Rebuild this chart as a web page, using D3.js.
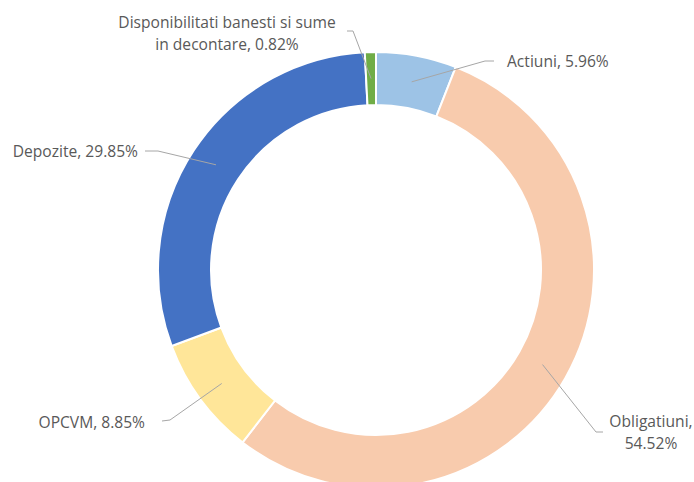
<!DOCTYPE html>
<html>
<head>
<meta charset="utf-8">
<script src="https://cdn.jsdelivr.net/npm/d3@7"></script>
<style>
  body { margin: 0; background: #ffffff; }
  text { font-family: "Open Sans", sans-serif; font-size: 15.6px; fill: #595959; }
</style>
</head>
<body>
<svg></svg>
<script>
// Data, in drawing order (clockwise from 12 o'clock)
let categories = ["Actiuni", "Obligatiuni", "OPCVM", "Depozite", "Disponibilitati banesti si sume in decontare"];
let shares = [5.96, 54.52, 8.85, 29.85, 0.82];
let labelLines = [
  ["Actiuni, 5.96%"],
  ["Obligatiuni,", "54.52%"],
  ["OPCVM, 8.85%"],
  ["Depozite, 29.85%"],
  ["Disponibilitati banesti si sume", "in decontare, 0.82%"]
];

// Colours of the slices
let colors = ["#9dc3e6", "#f8cbad", "#ffe699", "#4472c4", "#70ad47"];

// Canvas and ring size
let width = 694;
let height = 482;
let cx = 376;
let cy = 270;
let outerR = 218;
let innerR = 165;

// Where each label sits: text anchor point, its alignment, and the elbow of the leader line
let labelLayout = [
  { x: 507, y: 67, anchor: "start", lineStart: [494, 61], elbow: [485, 61] },
  { x: 651, y: 427, anchor: "middle", lineStart: [603, 432], elbow: [596, 432] },
  { x: 145, y: 428, anchor: "end", lineStart: [162, 421], elbow: [170, 420] },
  { x: 138, y: 157, anchor: "end", lineStart: [145, 151], elbow: [158, 151] },
  { x: 227, y: 28, anchor: "middle", lineStart: [347, 31], elbow: [353, 31] }
];
let lineHeight = 22;

let svg = d3.select("svg")
  .attr("width", width)
  .attr("height", height);

let values = categories.map((c, i) => ({ name: c, value: shares[i], i: i }));

let pie = d3.pie()
  .value(d => d.value)
  .sort(null);

let arc = d3.arc()
  .innerRadius(innerR)
  .outerRadius(outerR);

let arcs = pie(values);

let g = svg.append("g")
  .attr("transform", `translate(${cx}, ${cy})`);

// Draw the ring slices
g.selectAll("path.slice")
  .data(arcs)
  .enter()
  .append("path")
  .attr("class", "slice")
  .attr("d", arc)
  .attr("fill", d => colors[d.data.i])
  .attr("stroke", "#ffffff")
  .attr("stroke-width", 2);

// Leader lines from the label to the middle of each slice
let line = d3.line();
svg.selectAll("path.leader")
  .data(arcs)
  .enter()
  .append("path")
  .attr("class", "leader")
  .attr("d", d => {
    let lay = labelLayout[d.data.i];
    let c = arc.centroid(d);
    return line([lay.lineStart, lay.elbow, [cx + c[0], cy + c[1]]]);
  })
  .attr("fill", "none")
  .attr("stroke", "#a6a6a6")
  .attr("stroke-width", 1);

// Data labels
let labels = svg.selectAll("text.label")
  .data(arcs)
  .enter()
  .append("text")
  .attr("class", "label")
  .attr("text-anchor", d => labelLayout[d.data.i].anchor);

labels.selectAll("tspan")
  .data(d => labelLines[d.data.i].map((t, k) => ({ t: t, k: k, lay: labelLayout[d.data.i] })))
  .enter()
  .append("tspan")
  .attr("x", d => d.lay.x)
  .attr("y", d => d.lay.y + d.k * lineHeight)
  .text(d => d.t);
</script>
</body>
</html>
